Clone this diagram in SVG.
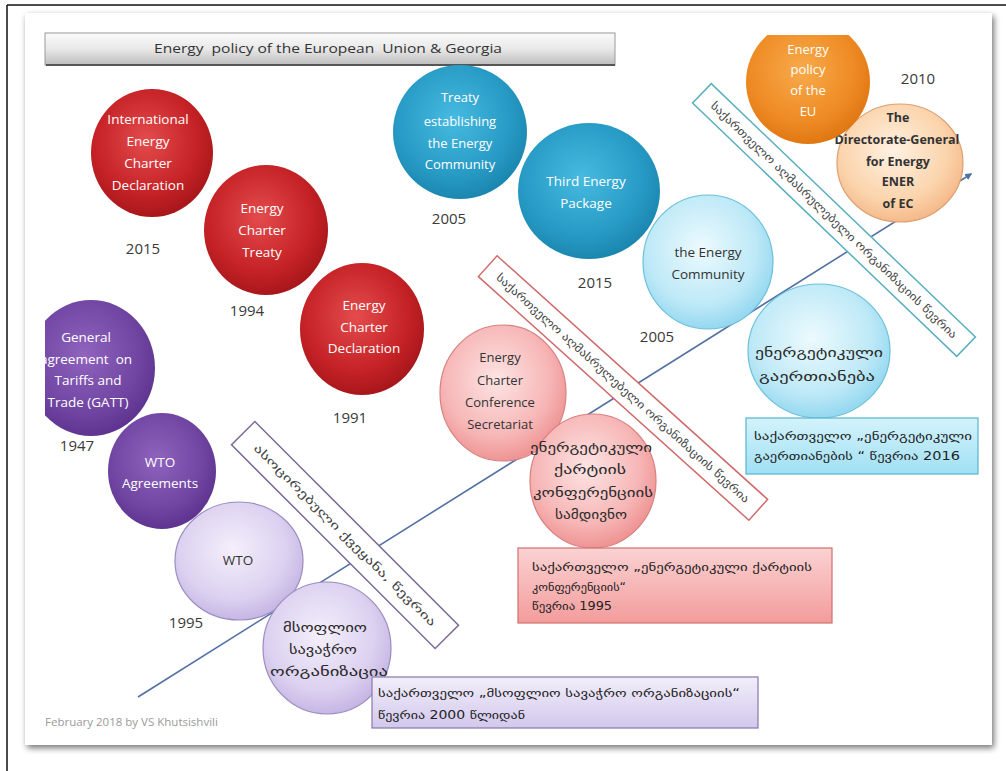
<svg xmlns="http://www.w3.org/2000/svg" width="1006" height="771" viewBox="0 0 1006 771">
<style>
.en{font-family:"Open Sans","Liberation Sans",sans-serif;font-size:13.5px;text-anchor:middle;white-space:pre}
.w{fill:#ffffff}
.d{fill:#333333}
.b{font-weight:bold}
.yr{font-family:"Open Sans","Liberation Sans",sans-serif;font-size:15px;fill:#3a3a3a;text-anchor:middle}
.ka{font-family:"DejaVu Sans","Noto Sans",sans-serif;font-size:12px;fill:#2a2a2a}
.kac{text-anchor:middle}
.kab{font-family:"DejaVu Sans","Noto Sans",sans-serif;font-size:11.5px;fill:#222222}
.diag{font-family:"DejaVu Sans","Noto Sans",sans-serif;font-size:11px;fill:#444444;text-anchor:middle}
.conn{stroke:#5271a3;stroke-width:1.6;fill:none}
</style>
<defs>
<filter id="shadow" x="-3%" y="-3%" width="106%" height="106%">
<feGaussianBlur in="SourceAlpha" stdDeviation="3"/>
<feOffset dx="2" dy="3"/>
<feComponentTransfer><feFuncA type="linear" slope="0.55"/></feComponentTransfer>
<feMerge><feMergeNode/><feMergeNode in="SourceGraphic"/></feMerge>
</filter>
<radialGradient id="gRed" cx="45%" cy="40%" r="60%"><stop offset="0" stop-color="#e44c4c"/><stop offset="0.7" stop-color="#c52226"/><stop offset="1" stop-color="#a8171b"/></radialGradient>
<radialGradient id="gPur" cx="45%" cy="40%" r="60%"><stop offset="0" stop-color="#8f63be"/><stop offset="0.7" stop-color="#7046a2"/><stop offset="1" stop-color="#5e3490"/></radialGradient>
<radialGradient id="gLpur" cx="45%" cy="40%" r="60%"><stop offset="0" stop-color="#f4effb"/><stop offset="0.7" stop-color="#dcd1f0"/><stop offset="1" stop-color="#c6b6e4"/></radialGradient>
<radialGradient id="gPink" cx="45%" cy="40%" r="60%"><stop offset="0" stop-color="#fde4e4"/><stop offset="0.7" stop-color="#f7b6b6"/><stop offset="1" stop-color="#ef9494"/></radialGradient>
<radialGradient id="gBlue" cx="45%" cy="40%" r="60%"><stop offset="0" stop-color="#46badf"/><stop offset="0.7" stop-color="#279bc5"/><stop offset="1" stop-color="#1b87b0"/></radialGradient>
<radialGradient id="gLblue" cx="45%" cy="40%" r="60%"><stop offset="0" stop-color="#ecfafe"/><stop offset="0.7" stop-color="#bee9f7"/><stop offset="1" stop-color="#95d8f0"/></radialGradient>
<radialGradient id="gOrange" cx="45%" cy="40%" r="60%"><stop offset="0" stop-color="#f8aa4c"/><stop offset="0.7" stop-color="#ee8b24"/><stop offset="1" stop-color="#e07713"/></radialGradient>
<radialGradient id="gPeach" cx="45%" cy="40%" r="60%"><stop offset="0" stop-color="#fff1e2"/><stop offset="0.7" stop-color="#fbd4ac"/><stop offset="1" stop-color="#f5ba8b"/></radialGradient>
<linearGradient id="gTitle" x1="0" y1="0" x2="0" y2="1"><stop offset="0" stop-color="#fbfbfb"/><stop offset="0.5" stop-color="#e8e8e8"/><stop offset="1" stop-color="#bdbdbd"/></linearGradient>
<linearGradient id="gBoxPur" x1="0" y1="0" x2="0" y2="1"><stop offset="0" stop-color="#f2eefa"/><stop offset="1" stop-color="#d2c8ed"/></linearGradient>
<linearGradient id="gBoxRed" x1="0" y1="0" x2="0" y2="1"><stop offset="0" stop-color="#fbd2d2"/><stop offset="1" stop-color="#f39c9c"/></linearGradient>
<linearGradient id="gBoxBlue" x1="0" y1="0" x2="0" y2="1"><stop offset="0" stop-color="#d4f3fc"/><stop offset="1" stop-color="#a0e0f4"/></linearGradient>
<clipPath id="clipSlide"><rect x="45" y="35" width="945" height="708"/></clipPath>
<marker id="arrow" viewBox="0 0 10 10" refX="8" refY="5" markerWidth="7" markerHeight="7" orient="auto" markerUnits="userSpaceOnUse"><path d="M0,0 L10,5 L0,10 z" fill="#5271a3"/></marker>
</defs>

<rect x="0" y="0" width="1006" height="771" fill="#ffffff"/>
<line x1="7" y1="5" x2="1006" y2="5" stroke="#111" stroke-width="1.5"/>
<line x1="7" y1="5" x2="7" y2="771" stroke="#111" stroke-width="1.5"/>
<rect id="slide" x="25" y="13" width="967" height="732" fill="#ffffff" filter="url(#shadow)"/>

<g id="title">
<rect x="45" y="33" width="570" height="32" fill="url(#gTitle)" stroke="#9a9a9a" stroke-width="1"/>
<line x1="46" y1="65" x2="615" y2="65" stroke="#555" stroke-width="2"/>
<text x="328" y="53" class="en d" style="font-size:13.5px" textLength="348" lengthAdjust="spacingAndGlyphs">Energy  policy of the European  Union &amp; Georgia</text>
</g>

<g id="connectors">
<line class="conn" x1="138" y1="697" x2="971" y2="174" marker-end="url(#arrow)"/>
</g>

<g id="n-iecd">
<ellipse cx="152" cy="153" rx="61" ry="64" fill="url(#gRed)"/>
<text class="en w"><tspan x="148" y="124">International</tspan><tspan x="148" y="146">Energy</tspan><tspan x="148" y="168">Charter</tspan><tspan x="148" y="190">Declaration</tspan></text>
</g>
<text class="yr" x="143" y="254">2015</text>

<g id="n-ect">
<ellipse cx="266" cy="230" rx="62" ry="65" fill="url(#gRed)"/>
<text class="en w"><tspan x="262" y="213">Energy</tspan><tspan x="262" y="235">Charter</tspan><tspan x="262" y="257">Treaty</tspan></text>
</g>
<text class="yr" x="247" y="316">1994</text>

<g id="n-ecd">
<ellipse cx="362" cy="329" rx="62" ry="66" fill="url(#gRed)"/>
<text class="en w"><tspan x="364" y="310">Energy</tspan><tspan x="364" y="332">Charter</tspan><tspan x="364" y="353">Declaration</tspan></text>
</g>
<text class="yr" x="350" y="423">1991</text>

<g id="n-gatt" clip-path="url(#clipSlide)">
<ellipse cx="91" cy="368" rx="64" ry="68" fill="url(#gPur)"/>
<text class="en w"><tspan x="86" y="342">General</tspan><tspan x="86" y="364">agreement  on</tspan><tspan x="88" y="385">Tariffs and</tspan><tspan x="88" y="407">Trade (GATT)</tspan></text>
</g>
<text class="yr" x="77" y="451">1947</text>

<g id="n-wtoagr">
<ellipse cx="162" cy="471" rx="54" ry="58" fill="url(#gPur)"/>
<text class="en w"><tspan x="160" y="467">WTO</tspan><tspan x="160" y="488">Agreements</tspan></text>
</g>

<g id="n-wto">
<ellipse cx="239" cy="561" rx="64" ry="59" fill="url(#gLpur)" stroke="#9c8cc0" stroke-width="1.2"/>
<text class="en d" x="238" y="565">WTO</text>
</g>
<text class="yr" x="186" y="628">1995</text>

<g id="n-wto-ka">
<ellipse cx="327" cy="648" rx="64" ry="66" fill="url(#gLpur)" stroke="#9c8cc0" stroke-width="1.2"/>
<text class="ka kac"><tspan x="325" y="632" textLength="84" lengthAdjust="spacingAndGlyphs">მსოფლიო</tspan><tspan x="323" y="654" textLength="68" lengthAdjust="spacingAndGlyphs">სავაჭრო</tspan><tspan x="329" y="676" textLength="118" lengthAdjust="spacingAndGlyphs">ორგანიზაცია</tspan></text>
</g>

<g id="n-box-wto">
<rect x="372" y="677" width="386" height="51" fill="url(#gBoxPur)" stroke="#8878a8" stroke-width="1.2"/>
<text class="kab"><tspan x="378" y="697" textLength="362" lengthAdjust="spacingAndGlyphs">საქართველო „მსოფლიო სავაჭრო ორგანიზაციის“</tspan><tspan x="378" y="719" textLength="147" lengthAdjust="spacingAndGlyphs">წევრია 2000 წლიდან</tspan></text>
</g>

<g id="n-diag-wto" transform="translate(345,535) rotate(45)">
<rect x="-144" y="-16.5" width="288" height="33" fill="#ffffff" stroke="#7a6a9a" stroke-width="1.5"/>
<text class="diag" x="0" y="4" textLength="252" lengthAdjust="spacingAndGlyphs">ასოცირებული ქვეყანა, წევრია</text>
</g>

<g id="n-eccs">
<ellipse cx="503" cy="393" rx="63" ry="68" fill="url(#gPink)" stroke="#d88080" stroke-width="1.2"/>
<text class="en d" style="font-size:13px"><tspan x="500" y="362">Energy</tspan><tspan x="500" y="385">Charter</tspan><tspan x="500" y="407">Conference</tspan><tspan x="500" y="429">Secretariat</tspan></text>
</g>

<g id="n-eccs-ka">
<ellipse cx="593" cy="481" rx="63" ry="67" fill="url(#gPink)" stroke="#d88080" stroke-width="1.2"/>
<text class="ka kac"><tspan x="591" y="452" textLength="122" lengthAdjust="spacingAndGlyphs">ენერგეტიკული</tspan><tspan x="590" y="474" textLength="72" lengthAdjust="spacingAndGlyphs">ქარტიის</tspan><tspan x="593" y="497" textLength="120" lengthAdjust="spacingAndGlyphs">კონფერენციის</tspan><tspan x="591" y="519" textLength="72" lengthAdjust="spacingAndGlyphs">სამდივნო</tspan></text>
</g>

<g id="n-box-ec">
<rect x="518" y="548" width="314" height="75" fill="url(#gBoxRed)" stroke="#d07070" stroke-width="1.2"/>
<text class="kab"><tspan x="532" y="571" textLength="280" lengthAdjust="spacingAndGlyphs">საქართველო „ენერგეტიკული ქარტიის</tspan><tspan x="532" y="591" textLength="94" lengthAdjust="spacingAndGlyphs">კონფერენციის“</tspan><tspan x="532" y="610" textLength="80" lengthAdjust="spacingAndGlyphs">წევრია 1995</tspan></text>
</g>

<g id="n-diag-ec" transform="translate(623,388) rotate(42)">
<rect x="-182" y="-14" width="364" height="28" fill="#ffffff" stroke="#d06a6a" stroke-width="1.5"/>
<text class="diag" x="0" y="4" textLength="336" lengthAdjust="spacingAndGlyphs">საქართველო აღმასრულებელი ორგანიზაციის წევრია</text>
</g>

<g id="n-treaty">
<ellipse cx="460" cy="132" rx="67" ry="67" fill="url(#gBlue)"/>
<text class="en w" style="font-size:13px"><tspan x="460" y="102">Treaty</tspan><tspan x="460" y="126">establishing</tspan><tspan x="460" y="148">the Energy</tspan><tspan x="460" y="169">Community</tspan></text>
</g>
<text class="yr" x="449" y="224">2005</text>

<g id="n-third">
<ellipse cx="589" cy="191" rx="71" ry="68" fill="url(#gBlue)"/>
<text class="en w"><tspan x="586" y="186">Third Energy</tspan><tspan x="586" y="208">Package</tspan></text>
</g>
<text class="yr" x="595" y="288">2015</text>

<g id="n-encom">
<ellipse cx="708" cy="262" rx="65" ry="67" fill="url(#gLblue)" stroke="#6cc0da" stroke-width="1.2"/>
<text class="en d"><tspan x="708" y="257">the Energy</tspan><tspan x="708" y="279">Community</tspan></text>
</g>
<text class="yr" x="657" y="342">2005</text>

<g id="n-encom-ka">
<ellipse cx="819" cy="351" rx="71" ry="67" fill="url(#gLblue)" stroke="#6cc0da" stroke-width="1.2"/>
<text class="ka kac"><tspan x="819" y="357" textLength="128" lengthAdjust="spacingAndGlyphs">ენერგეტიკული</tspan><tspan x="817" y="381" textLength="116" lengthAdjust="spacingAndGlyphs">გაერთიანება</tspan></text>
</g>

<g id="n-box-encom">
<rect x="746" y="418" width="232" height="56" fill="url(#gBoxBlue)" stroke="#55b5cf" stroke-width="1.2"/>
<text class="kab"><tspan x="754" y="440" textLength="218" lengthAdjust="spacingAndGlyphs">საქართველო „ენერგეტიკული</tspan><tspan x="754" y="460" textLength="206" lengthAdjust="spacingAndGlyphs">გაერთიანების “ წევრია 2016</tspan></text>
</g>

<g id="n-diag-encom" transform="translate(834,220) rotate(43.8)">
<rect x="-183" y="-13.5" width="366" height="27" fill="#ffffff" stroke="#5aafbf" stroke-width="1.5"/>
<text class="diag" x="0" y="4" textLength="336" lengthAdjust="spacingAndGlyphs">საქართველო აღმასრულებელი ორგანიზაციის წევრია</text>
</g>

<g id="n-dg">
<ellipse cx="900" cy="163" rx="63" ry="59" fill="url(#gPeach)" stroke="#dda070" stroke-width="1.2"/>
<text class="en d b" style="font-size:12.5px"><tspan x="898" y="122">The</tspan><tspan x="897" y="144">Directorate-General</tspan><tspan x="898" y="166">for Energy</tspan><tspan x="898" y="186">ENER</tspan><tspan x="898" y="208">of EC</tspan></text>
</g>

<g id="n-eupolicy" clip-path="url(#clipSlide)">
<ellipse cx="808" cy="82" rx="62" ry="62" fill="url(#gOrange)"/>
<text class="en w" style="font-size:13px"><tspan x="808" y="54">Energy</tspan><tspan x="808" y="74">policy</tspan><tspan x="808" y="95">of the</tspan><tspan x="808" y="116">EU</tspan></text>
</g>
<text class="yr" x="918" y="84">2010</text>

<text x="45" y="726" style="font-family:'Open Sans','Liberation Sans',sans-serif;font-size:11.5px;fill:#9a9a9a">February 2018 by VS Khutsishvili</text>
</svg>
